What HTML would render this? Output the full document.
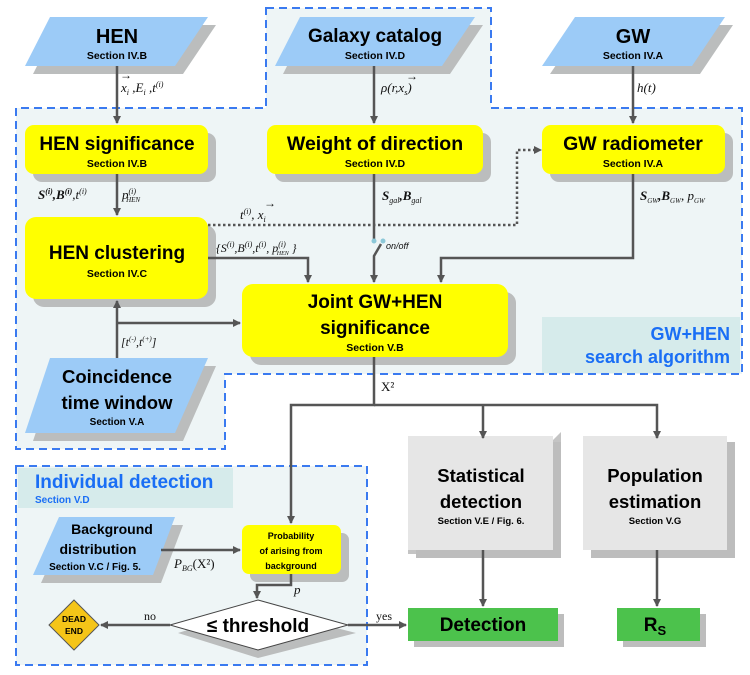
<!DOCTYPE html>
<html><head><meta charset="utf-8"><style>
html,body{margin:0;padding:0;background:#fff;}
svg{display:block;}
.t{font-family:"Liberation Sans",sans-serif;font-weight:bold;fill:#000;text-anchor:middle;}
.m{font-family:"Liberation Serif",serif;font-style:italic;fill:#111;}
.r{font-family:"Liberation Serif",serif;fill:#111;}
</style></head><body>
<svg width="750" height="675" viewBox="0 0 750 675" xmlns="http://www.w3.org/2000/svg">
<defs>
<marker id="a" markerWidth="8" markerHeight="8" refX="7" refY="4" orient="auto" markerUnits="userSpaceOnUse" viewBox="0 0 8 8">
<path d="M0,0 L8,4 L0,8 Z" fill="#555"/></marker>
</defs>
<path d="M266,8 H491 V108 H742 V374 H225 V449 H16 V108 H266 Z" fill="#eef5f6" stroke="#3a7af0" stroke-width="2" stroke-dasharray="8,5"/>
<rect x="542" y="317" width="198" height="56" fill="#d6ebeb"/>
<text x="730" y="340" font-family="Liberation Sans,sans-serif" font-weight="bold" font-size="18" fill="#1a6ef5" text-anchor="end">GW+HEN</text>
<text x="730" y="363" font-family="Liberation Sans,sans-serif" font-weight="bold" font-size="18" fill="#1a6ef5" text-anchor="end">search algorithm</text>
<rect x="16" y="466" width="351" height="199" fill="#eef5f6" stroke="#3a7af0" stroke-width="2" stroke-dasharray="8,5"/>
<rect x="18" y="468" width="215" height="40" fill="#d6ebeb"/>
<text x="35" y="488" font-family="Liberation Sans,sans-serif" font-weight="bold" font-size="19" fill="#1a6ef5">Individual detection</text>
<text x="35" y="503" font-family="Liberation Sans,sans-serif" font-weight="bold" font-size="10" fill="#1a6ef5">Section  V.D</text>

<g>
<polygon points="58,25 216,25 183,74 33,74" fill="#bbbdbd"/>
<polygon points="50,17 208,17 175,66 25,66" fill="#9ccbf7"/>
<text class="t" x="117" y="43" font-size="20">HEN</text>
<text class="t" x="117" y="59" font-size="10.5">Section  IV.B</text>

<polygon points="308,25 483,25 450,74 283,74" fill="#bbbdbd"/>
<polygon points="300,17 475,17 442,66 275,66" fill="#9ccbf7"/>
<text class="t" x="375" y="42" font-size="19">Galaxy catalog</text>
<text class="t" x="375" y="59" font-size="10.5">Section  IV.D</text>

<polygon points="583,25 733,25 700,74 550,74" fill="#bbbdbd"/>
<polygon points="575,17 725,17 692,66 542,66" fill="#9ccbf7"/>
<text class="t" x="633" y="43" font-size="20">GW</text>
<text class="t" x="633" y="59" font-size="10.5">Section  IV.A</text>

<polygon points="58,366 216,366 183,441 33,441" fill="#bbbdbd"/>
<polygon points="50,358 208,358 175,433 25,433" fill="#9ccbf7"/>
<text class="t" x="117" y="383" font-size="18.5">Coincidence</text>
<text class="t" x="117" y="409" font-size="18.5">time window</text>
<text class="t" x="117" y="425" font-size="10">Section  V.A</text>

<polygon points="67,525 183,525 161,583 41,583" fill="#bbbdbd"/>
<polygon points="59,517 175,517 153,575 33,575" fill="#9ccbf7"/>
<text class="t" x="112" y="534" font-size="14">Background</text>
<text class="t" x="98" y="554" font-size="14">distribution</text>
<text class="t" x="95" y="570" font-size="10">Section V.C / Fig. 5.</text>
</g>

<rect x="33" y="133" width="183" height="49" rx="9" fill="#bbbdbd"/>
<rect x="25" y="125" width="183" height="49" rx="9" fill="#ffff00"/>
<text class="t" x="117" y="150" font-size="19">HEN significance</text>
<text class="t" x="117" y="167" font-size="10.5">Section  IV.B</text>

<rect x="275" y="133" width="216" height="49" rx="9" fill="#bbbdbd"/>
<rect x="267" y="125" width="216" height="49" rx="9" fill="#ffff00"/>
<text class="t" x="375" y="150" font-size="19.5">Weight of direction</text>
<text class="t" x="375" y="167" font-size="10.5">Section  IV.D</text>

<rect x="550" y="133" width="183" height="49" rx="9" fill="#bbbdbd"/>
<rect x="542" y="125" width="183" height="49" rx="9" fill="#ffff00"/>
<text class="t" x="633" y="150" font-size="19.5">GW radiometer</text>
<text class="t" x="633" y="167" font-size="10.5">Section  IV.A</text>

<rect x="33" y="225" width="183" height="82" rx="11" fill="#bbbdbd"/>
<rect x="25" y="217" width="183" height="82" rx="11" fill="#ffff00"/>
<text class="t" x="117" y="259" font-size="19">HEN clustering</text>
<text class="t" x="117" y="277" font-size="10.5">Section  IV.C</text>

<rect x="250" y="292" width="266" height="73" rx="11" fill="#bbbdbd"/>
<rect x="242" y="284" width="266" height="73" rx="11" fill="#ffff00"/>
<text class="t" x="375" y="308" font-size="19">Joint GW+HEN</text>
<text class="t" x="375" y="334" font-size="19">significance</text>
<text class="t" x="375" y="351" font-size="10.5">Section  V.B</text>

<rect x="250" y="533" width="99" height="49" rx="7" fill="#bbbdbd"/>
<rect x="242" y="525" width="99" height="49" rx="7" fill="#ffff00"/>
<text class="t" x="291" y="539" font-size="9">Probability</text>
<text class="t" x="291" y="554" font-size="9">of arising from</text>
<text class="t" x="291" y="569" font-size="9">background</text>

<polygon points="408,440 553,440 561,432 561,546 553,554 408,554" fill="#c4c4c4"/>
<rect x="416" y="442" width="145" height="116" fill="#bdbdbd"/>
<rect x="408" y="436" width="145" height="114" fill="#e6e6e6"/>
<text class="t" x="481" y="482" font-size="18.5">Statistical</text>
<text class="t" x="481" y="508" font-size="18.5">detection</text>
<text class="t" x="481" y="524" font-size="9.5">Section V.E / Fig. 6.</text>

<rect x="591" y="442" width="144" height="116" fill="#bdbdbd"/>
<rect x="583" y="436" width="144" height="114" fill="#e6e6e6"/>
<text class="t" x="655" y="482" font-size="18.5">Population</text>
<text class="t" x="655" y="508" font-size="18.5">estimation</text>
<text class="t" x="655" y="524" font-size="9.5">Section  V.G</text>

<rect x="414" y="614" width="150" height="33" fill="#bdbdbd"/>
<rect x="408" y="608" width="150" height="33" fill="#4cc24c"/>
<text class="t" x="483" y="631" font-size="19">Detection</text>
<rect x="623" y="614" width="83" height="33" fill="#bdbdbd"/>
<rect x="617" y="608" width="83" height="33" fill="#4cc24c"/>
<text class="t" x="655" y="631" font-size="19">R<tspan font-size="13" dy="4">S</tspan></text>

<polygon points="258,608 356,633 258,658 178,633" fill="#bbbdbd"/>
<polygon points="258,600 348,625 258,650 170,625" fill="#fff" stroke="#444" stroke-width="1"/>
<text class="t" x="258" y="632" font-size="19">≤ threshold</text>

<polygon points="74,600 99,625 74,650 49,625" fill="#f5c518" stroke="#555" stroke-width="1"/>
<text class="t" x="74" y="622" font-size="8.5">DEAD</text>
<text class="t" x="74" y="634" font-size="8.5">END</text>

<g stroke="#555" stroke-width="2.5" fill="none">
<path d="M117,66 V123" marker-end="url(#a)"/>
<path d="M374,66 V123" marker-end="url(#a)"/>
<path d="M633,66 V123" marker-end="url(#a)"/>
<path d="M117,174 V215" marker-end="url(#a)"/>
<path d="M208,258 H308 V282" marker-end="url(#a)"/>
<path d="M374,174 V240"/>
<path d="M381,244 L374,256 V282" marker-end="url(#a)"/>
<path d="M633,174 V258 H441 V282" marker-end="url(#a)"/>
<path d="M117,358 V301" marker-end="url(#a)"/>
<path d="M117,323 H240" marker-end="url(#a)"/>
<path d="M374,357 V405 H291 V523" marker-end="url(#a)"/>
<path d="M374,405 H657 V438" marker-end="url(#a)"/>
<path d="M483,405 V438" marker-end="url(#a)"/>
<path d="M483,550 V606" marker-end="url(#a)"/>
<path d="M657,550 V606" marker-end="url(#a)"/>
<path d="M161,550 H240" marker-end="url(#a)"/>
<path d="M291,574 V585 H257 V598" marker-end="url(#a)"/>
<path d="M170,625 H101" marker-end="url(#a)"/>
<path d="M348,625 H406" marker-end="url(#a)"/>
</g>
<path d="M208,225 H517 V150 H538" stroke="#555" stroke-width="2.5" fill="none" stroke-dasharray="2.5,2.5"/>
<path d="M534,146 L542,150 L534,154 Z" fill="#555"/>
<circle cx="374" cy="241" r="2.5" fill="#8cc8d8"/>
<circle cx="383" cy="241" r="2.5" fill="#8cc8d8"/>
<text x="386" y="249" font-family="Liberation Sans,sans-serif" font-style="italic" font-size="9" fill="#111">on/off</text>

<text class="m" x="121" y="92" font-size="13">x<tspan font-size="8" dy="3">i</tspan><tspan dy="-3"> ,E</tspan><tspan font-size="8" dy="3">i</tspan><tspan dy="-3"> ,t</tspan><tspan font-size="8" dy="-5">(i)</tspan></text>
<text class="r" x="120" y="79" font-size="12">→</text>
<text class="m" x="381" y="92" font-size="13">ρ(r,x<tspan font-size="8" dy="3">s</tspan><tspan dy="-3">)</tspan></text>
<text class="r" x="406" y="80" font-size="12">→</text>
<text class="m" x="637" y="92" font-size="13">h(t)</text>
<text class="m" x="38" y="199" font-size="13" font-weight="bold">S<tspan font-size="8" dy="-5">(i)</tspan><tspan dy="5">,B</tspan><tspan font-size="8" dy="-5">(i)</tspan><tspan dy="5" font-weight="normal">,t</tspan><tspan font-size="8" dy="-5" font-weight="normal">(i)</tspan></text>
<text class="m" x="122" y="199" font-size="13">p<tspan font-size="8" dy="-5">(i)</tspan><tspan font-size="7" dx="-10" dy="8">HEN</tspan></text>
<text class="m" x="240" y="219" font-size="13">t<tspan font-size="8" dy="-5">(i)</tspan><tspan dy="5">, x</tspan><tspan font-size="8" dy="3">i</tspan></text>
<text class="r" x="264" y="207" font-size="12">→</text>
<text class="m" x="216" y="252" font-size="12">{S<tspan font-size="8" dy="-5">(i)</tspan><tspan dy="5">,B</tspan><tspan font-size="8" dy="-5">(i)</tspan><tspan dy="5">,t</tspan><tspan font-size="8" dy="-5">(i)</tspan><tspan dy="5">, p</tspan><tspan font-size="8" dy="-5">(i)</tspan><tspan font-size="6" dx="-9" dy="8">HEN</tspan><tspan dy="-3"> }</tspan></text>
<text class="m" x="382" y="200" font-size="13" font-weight="bold">S<tspan font-size="8" dy="3" font-weight="normal">gal</tspan><tspan dy="-3">,B</tspan><tspan font-size="8" dy="3" font-weight="normal">gal</tspan></text>
<text class="m" x="640" y="200" font-size="13" font-weight="bold">S<tspan font-size="7" dy="3" font-weight="normal">GW</tspan><tspan dy="-3">,B</tspan><tspan font-size="7" dy="3" font-weight="normal">GW</tspan><tspan dy="-3" font-weight="normal">, p</tspan><tspan font-size="7" dy="3" font-weight="normal">GW</tspan></text>
<text class="m" x="121" y="346" font-size="12">[t<tspan font-size="7" dy="-5">(-)</tspan><tspan dy="5">,t</tspan><tspan font-size="7" dy="-5">(+)</tspan><tspan dy="5">]</tspan></text>
<text class="r" x="381" y="391" font-size="13">X²</text>
<text class="m" x="174" y="568" font-size="13">P<tspan font-size="8" dy="3">BG</tspan><tspan dy="-3" font-style="normal">(X²)</tspan></text>
<text class="m" x="294" y="594" font-size="13">p</text>
<text class="r" x="144" y="620" font-size="12">no</text>
<text class="r" x="376" y="620" font-size="12">yes</text>
</svg>
</body></html>
